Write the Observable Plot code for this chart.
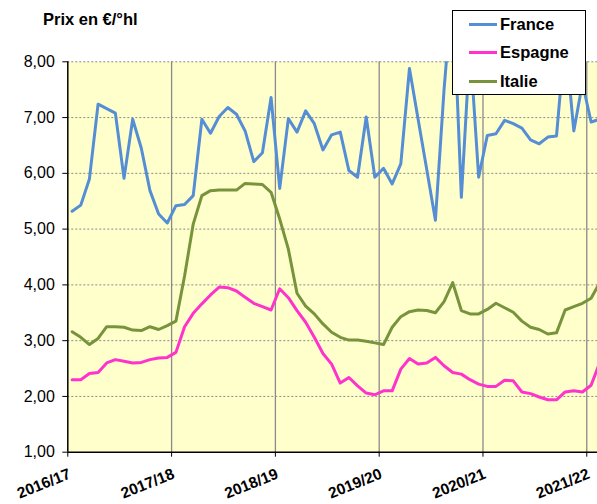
<!DOCTYPE html>
<html>
<head>
<meta charset="utf-8">
<script src="https://cdn.jsdelivr.net/npm/d3@7"></script>
<script src="https://cdn.jsdelivr.net/npm/@observablehq/plot@0.6"></script>
<style>
  body { margin: 0; background: #fff; font-family: "Liberation Sans", Arial, sans-serif; }
  #wrap { position: relative; width: 597px; height: 504px; overflow: hidden; }
  #title { position: absolute; left: 43px; top: 9px; font-weight: bold; font-size: 16.5px; line-height: 20px; color: #000; white-space: nowrap; }
  #legend { position: absolute; left: 452px; top: 10px; width: 132px; height: 83px; background: #fff; border: 1px solid #000; }
  .item { position: absolute; left: 16px; height: 20px; display: flex; align-items: center; font-weight: bold; font-size: 16.5px; color: #000; white-space: nowrap; }
  .sw { width: 28px; height: 3px; margin-right: 3px; }
</style>
</head>
<body>
<div id="wrap">
  <div id="chart"></div>
  <div id="title">Prix en €/°hl</div>
  <div id="legend"></div>
</div>
<script>
// Campaign labels (one tick per campaign start)
const campaigns = ["2016/17", "2017/18", "2018/19", "2019/20", "2020/21", "2021/22"];
const series = ["France", "Espagne", "Italie"];
const colors = ["#558ED5", "#FF33CC", "#77933C"];

// Monthly prices (€/°hl), 12 per campaign, starting 2016/17
const france = [
  5.32, 5.43, 5.90, 7.24, 7.16, 7.08, 5.91, 6.97, 6.45, 5.69, 5.27, 5.11,
  5.42, 5.44, 5.60, 6.97, 6.72, 7.02, 7.18, 7.06, 6.76, 6.21, 6.37, 7.36,
  5.73, 6.98, 6.74, 7.12, 6.89, 6.42, 6.69, 6.74, 6.05, 5.93, 7.01, 5.93,
  6.09, 5.81, 6.17, 7.88, 6.97, 6.07, 5.16, 7.50, 9.40, 5.57, 8.30, 5.93,
  6.68, 6.71, 6.95, 6.89, 6.81, 6.60, 6.53, 6.65, 6.67, 8.45, 6.76, 7.62,
  6.92, 6.97
];
const espagne = [
  2.30, 2.30, 2.41, 2.43, 2.60, 2.66, 2.63, 2.60, 2.61, 2.66, 2.69, 2.70,
  2.79, 3.25, 3.49, 3.66, 3.82, 3.96, 3.95, 3.89, 3.78, 3.67, 3.61, 3.55,
  3.93, 3.77, 3.54, 3.33, 3.06, 2.77, 2.58, 2.24, 2.34, 2.19, 2.06, 2.03,
  2.10, 2.10, 2.49, 2.68, 2.58, 2.60, 2.70, 2.55, 2.43, 2.40, 2.30, 2.22,
  2.18, 2.18, 2.29, 2.28, 2.08, 2.05, 1.99, 1.94, 1.94, 2.08, 2.10, 2.08,
  2.20, 2.61
];
const italie = [
  3.16, 3.06, 2.93, 3.04, 3.25, 3.25, 3.24, 3.19, 3.18, 3.25, 3.20, 3.27,
  3.35, 4.16, 5.09, 5.60, 5.69, 5.70, 5.70, 5.70, 5.82, 5.81, 5.80, 5.66,
  5.18, 4.64, 3.85, 3.62, 3.48, 3.30, 3.15, 3.06, 3.01, 3.01, 2.99, 2.96,
  2.93, 3.24, 3.43, 3.52, 3.55, 3.54, 3.50, 3.70, 4.04, 3.54, 3.48, 3.48,
  3.56, 3.67, 3.59, 3.51, 3.35, 3.24, 3.20, 3.12, 3.14, 3.55, 3.61, 3.67,
  3.76, 4.04
];
const yTicks = [1, 2, 3, 4, 5, 6, 7, 8];

const values = [france, espagne, italie];
const rows = [];
series.forEach((s, k) => values[k].forEach((v, i) => rows.push({s, i, v})));
const yearTicks = campaigns.map((c, k) => ({c, x: k * 12 - 0.5}));

const fmt = d => d.toFixed(2).replace(".", ",");

const chart = Plot.plot({
  width: 597,
  height: 504,
  marginTop: 61.3,
  marginBottom: 52.3,
  marginLeft: 67.3,
  marginRight: 0,
  x: {domain: [-0.5, 60.74], axis: null},
  y: {domain: [1, 8], axis: null},
  color: {domain: series, range: colors},
  style: {fontFamily: '"Liberation Sans", Arial, sans-serif', background: "transparent", color: "#000", overflow: "visible"},
  marks: [
    Plot.frame({fill: "#FFFFCC", stroke: null}),
    Plot.ruleY(yTicks.slice(1), {stroke: "#8a8a8a", strokeWidth: 1, strokeDasharray: "2,2"}),
    Plot.ruleX(yearTicks.slice(1), {x: "x", stroke: "#8a8a8a", strokeWidth: 1.3}),
    Plot.line(rows, {x: "i", y: "v", z: "s", stroke: "s", strokeWidth: 3, clip: true}),
    Plot.ruleX([-0.5], {stroke: "#000", strokeWidth: 1.5}),
    Plot.ruleY([1], {stroke: "#000", strokeWidth: 1.5}),
    Plot.axisY({ticks: yTicks, tickFormat: fmt, tickSize: 5, tickPadding: 8, fontSize: 16, label: null, stroke: "#000"}),
    Plot.axisX({ticks: yearTicks.map(d => d.x), tickFormat: () => "", tickSize: 5, label: null, stroke: "#000"}),
    Plot.text(yearTicks, {x: "x", frameAnchor: "bottom", text: "c", rotate: -22, textAnchor: "end", lineAnchor: "middle", dx: 2, dy: 21, fontWeight: "bold", fontSize: 15.5, fill: "#000"})
  ]
});
document.getElementById("chart").appendChild(chart);

const legend = document.getElementById("legend");
const centers = [13, 41.7, 70];
series.forEach((s, k) => {
  const it = document.createElement("div");
  it.className = "item";
  it.style.top = (centers[k] - 10) + "px";
  const sw = document.createElement("span");
  sw.className = "sw";
  sw.style.background = colors[k];
  const t = document.createElement("span");
  t.textContent = s;
  it.appendChild(sw);
  it.appendChild(t);
  legend.appendChild(it);
});
</script>
</body>
</html>
